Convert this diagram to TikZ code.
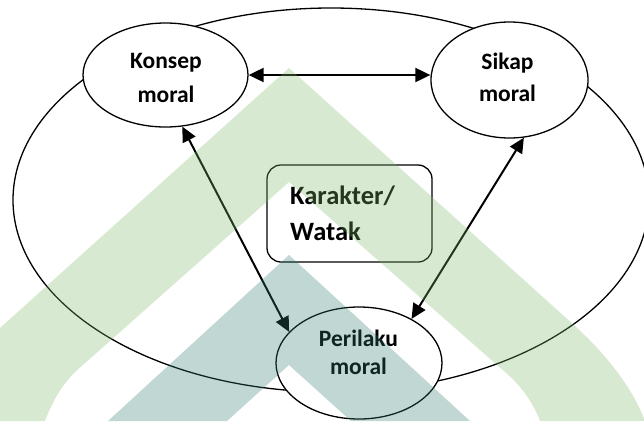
\documentclass[tikz,border=0pt]{standalone}
\usepackage{fontspec}
\setmainfont{Carlito}
\usetikzlibrary{shapes.geometric,arrows.meta}
\definecolor{wmgreen}{RGB}{128,185,108}
\definecolor{wmteal}{RGB}{48,125,115}
\begin{document}
\begin{tikzpicture}[x=1pt,y=-1pt,
  bub/.style={draw, ellipse, line width=1.3pt, fill=white, inner sep=0pt},
  lbl/.style={font=\bfseries\fontsize{23.5}{34}\selectfont, align=center, inner sep=0pt},
  link/.style={{Triangle[length=15pt,width=14pt]}-{Triangle[length=15pt,width=14pt]}, line width=2pt},
]
\useasboundingbox (0,0) rectangle (644,421);
\fill[white] (0,0) rectangle (644,421);
% outer ellipse
\node[draw, ellipse, line width=1.3pt, minimum width=636pt, minimum height=384pt, inner sep=0pt] (outer) at (331,200) {};
% bubbles
\node[bub, minimum width=165pt, minimum height=104pt] (K) at (165.5,75) {};
\node[bub, minimum width=157pt, minimum height=116pt] (S) at (509.5,80) {};
\node[bub, minimum width=166pt, minimum height=112pt] (P) at (359,363) {};
\node[draw, rounded corners=14pt, line width=1.3pt, fill=white, minimum width=165pt, minimum height=97pt, inner sep=0pt] (box) at (349.5,213.5) {};
% texts
\node[lbl] (Kt) at (166,77.5) {Konsep\\moral};
\node[lbl, font=\bfseries\fontsize{23.5}{32}\selectfont] (St) at (507.5,77.5) {Sikap\\moral};
\node[lbl, font=\bfseries\fontsize{23.5}{28}\selectfont] (Pt) at (358.5,352.5) {Perilaku\\moral};
\node[lbl, font=\bfseries\fontsize{26.5}{36}\selectfont, align=left, anchor=west] (Bt) at (290,213.5) {Karakter/\\Watak};
% connectors
\draw[link] (K.east) -- (K.east -| S.west);
\draw[link] (K.-72) -- (P.156);
\draw[link] (S.-76) -- (P.40);
% watermark overlay
\begin{scope}[opacity=0.3]
\fill[wmgreen] (0,328) -- (289,68) -- (575,326) .. controls (612,360) and (634,392) .. (645,421) -- (540,421) .. controls (532,400) and (520,385) .. (505,372) -- (289,182) -- (75,372) .. controls (62,385) and (52,402) .. (45,421) -- (0,421) -- cycle;
\fill[wmteal] (108,421) -- (289,255) -- (470,421) -- (351,421) -- (289,365) -- (227,421) -- cycle;
\end{scope}
\end{tikzpicture}
\end{document}
